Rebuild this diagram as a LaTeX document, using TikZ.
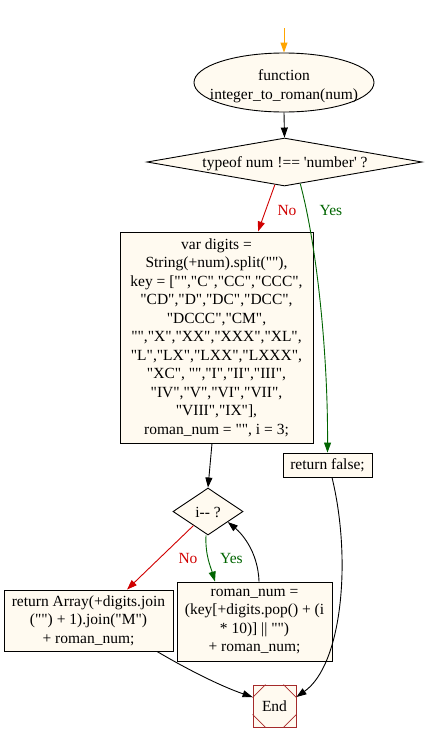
\documentclass[tikz,border=0pt]{standalone}
\usepackage{fontspec}
\setmainfont{Liberation Serif}[Ligatures=TeXOff]
\usetikzlibrary{shapes.geometric,arrows.meta,calc}
\definecolor{cream}{HTML}{FFFAF0}
\definecolor{endred}{HTML}{A52A2A}
\definecolor{ygreen}{HTML}{006400}
\definecolor{nred}{HTML}{D00000}
\definecolor{startor}{HTML}{FFA500}
\begin{document}
\begin{tikzpicture}[x=1pt,y=-1pt,line width=0.9pt,
  txt/.style={font=\fontsize{15.5}{18.5}\selectfont, align=center, inner sep=0pt},
  box/.style={draw, fill=cream, rectangle, inner sep=2pt, align=center, font=\fontsize{15.5}{18.5}\selectfont},
  dia/.style={diamond, draw, fill=cream, inner sep=0pt},
  arr/.style={-{Triangle[length=10pt,width=7pt]}},
  lbl/.style={font=\fontsize{15.5}{18.5}\selectfont, inner sep=0pt}]
\useasboundingbox (0,0) rectangle (424,742);
% nodes
\coordinate (start) at (284,28);
\node[ellipse, draw, fill=cream, minimum width=180pt, minimum height=59pt, inner sep=0pt] (func) at (284,82.5) {};
\node[txt] (functext) at (284,86) {function\\integer\_to\_roman(num)};
\node[dia, minimum width=275pt, minimum height=48pt] (cond) at (284.5,162) {};
\node[txt] (condtext) at (285,164) {typeof num !== 'number' ?};
\node[box, minimum width=193pt, minimum height=211pt] (big) at (216.5,337.5)
 {var digits =\\String(+num).split(""),\\key = ["","C","CC","CCC",\\"CD","D","DC","DCC",\\"DCCC","CM",\\"","X","XX","XXX","XL",\\"L","LX","LXX","LXXX",\\"XC", "","I","II","III",\\"IV","V","VI","VII",\\"VIII","IX"],\\roman\_num = "", i = 3;};
\node[box, minimum width=89pt, minimum height=24pt] (rf) at (327.5,465) {return false;};
\node[dia, minimum width=70pt, minimum height=47pt] (dec) at (208,511.5) {};
\node[txt] (dectext) at (208,512) {i-- ?};
\node[box, minimum width=169pt, minimum height=61pt] (ra) at (88.5,620.5)
 {return Array(+digits.join\\("") + 1).join("M")\\+ roman\_num;};
\node[box, minimum width=155pt, minimum height=79pt] (rn) at (254.5,621.5)
 {roman\_num =\\(key[+digits.pop() + (i\\* 10)] || "")\\+ roman\_num;};
\node[draw=endred, fill=cream, rectangle, minimum width=43pt, minimum height=42pt, inner sep=0pt, font=\fontsize{15.5}{18.5}\selectfont] (end) at (274.5,706) {End};
\draw[endred, line width=0.7pt] ([yshift=-13pt]end.north west) -- ([xshift=13pt]end.north west);
\draw[endred, line width=0.7pt] ([yshift=-13pt]end.north east) -- ([xshift=-13pt]end.north east);
\draw[endred, line width=0.7pt] ([yshift=13pt]end.south west) -- ([xshift=13pt]end.south west);
\draw[endred, line width=0.7pt] ([yshift=13pt]end.south east) -- ([xshift=-13pt]end.south east);
% edges
\draw[startor, arr] (start) -- (func.north);
\draw[arr] (func.south) -- (cond.north);
\draw[nred, arr] (cond.-113) -- ([xshift=41.5pt]big.north);
\node[lbl, text=nred] (no1) at (287,210.5) {No};
\draw[ygreen, arr] (cond.-54) .. controls (318,250) and (328,360) .. (rf.north);
\node[lbl, text=ygreen] (yes1) at (331,210.5) {Yes};
\draw[arr] ([xshift=-4.5pt]big.south) -- (dec.north);
\draw[nred, arr] (dec.-136) -- ([xshift=38.5pt]ra.north);
\node[lbl, text=nred] (no2) at (188,558.5) {No};
\draw[ygreen, arr] ([xshift=-2pt]dec.south) .. controls (205,555) and (211,568) .. ([xshift=-39.5pt]rn.north);
\node[lbl, text=ygreen] (yes2) at (231.5,558.5) {Yes};
\draw[arr] ([xshift=4.5pt]rn.north) .. controls (258,550) and (240,532) .. (dec.-28);
\draw[arr] ([xshift=68.5pt]ra.south) .. controls (185,668) and (220,686) .. ([yshift=9pt]end.west);
\draw[arr] ([xshift=4.5pt]rf.south) .. controls (352,560) and (342,665) .. ([yshift=9pt]end.east);
\end{tikzpicture}
\end{document}
